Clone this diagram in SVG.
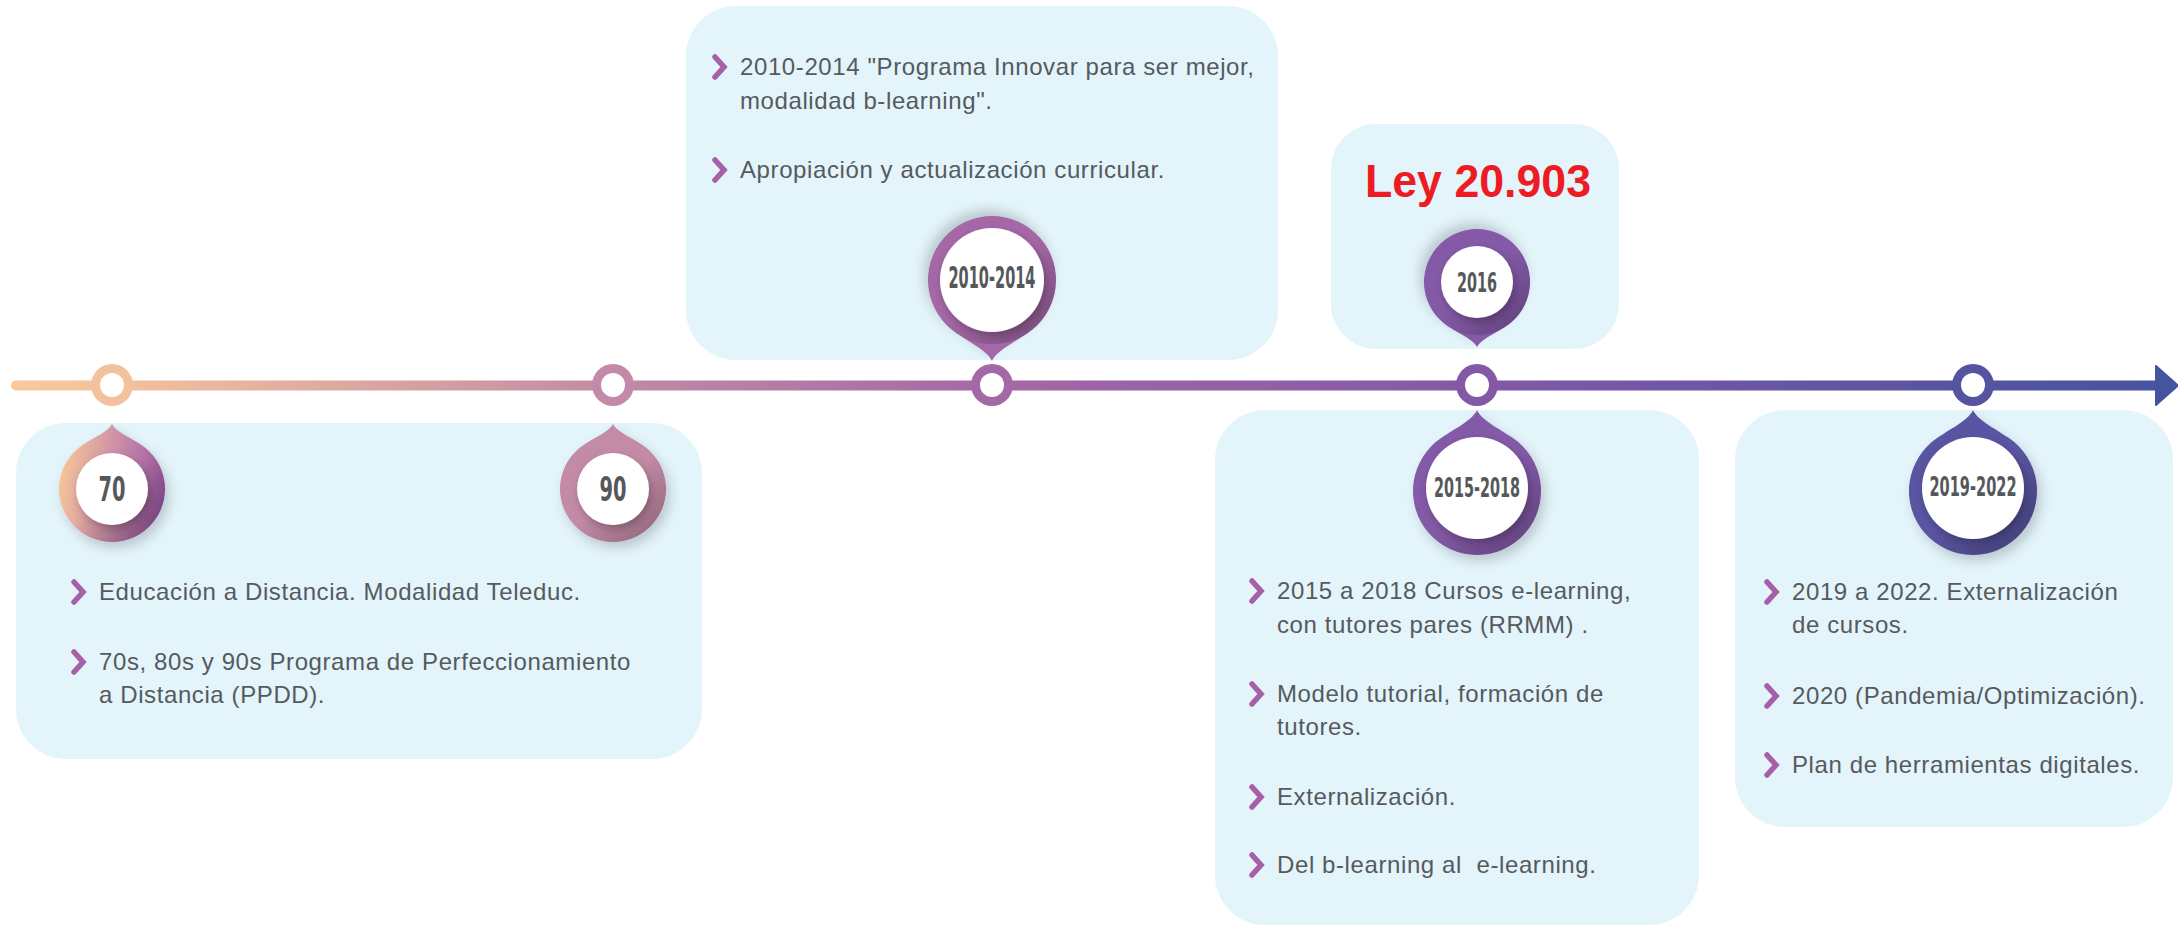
<svg xmlns="http://www.w3.org/2000/svg" width="2178" height="927" viewBox="0 0 2178 927">
<style>
.box{fill:#e3f4fb}
.txt{font-family:"Liberation Sans",Arial,sans-serif;font-size:24px;fill:#565a5d;letter-spacing:0.6px}
.lbl{font-family:"DejaVu Sans Condensed","DejaVu Sans",sans-serif;font-weight:bold;fill:#55585b;text-anchor:middle}
.chev{fill:none;stroke:#a75fa7;stroke-width:5.5;stroke-linecap:round;stroke-linejoin:miter}
.hole{fill:#ffffff}
</style>
<defs>
<linearGradient id="line" gradientUnits="userSpaceOnUse" x1="11" y1="0" x2="2178" y2="0">
<stop offset="0" stop-color="#f8c99b"/>
<stop offset="0.047" stop-color="#f3c29c"/>
<stop offset="0.278" stop-color="#c38aa5"/>
<stop offset="0.453" stop-color="#a468a6"/>
<stop offset="0.677" stop-color="#8259a6"/>
<stop offset="0.905" stop-color="#5654a0"/>
<stop offset="1" stop-color="#4654a0"/>
</linearGradient>
<linearGradient id="g70" x1="0" y1="0.3" x2="1" y2="0.5">
<stop offset="0" stop-color="#f8c999"/>
<stop offset="0.5" stop-color="#cc8fa6"/>
<stop offset="1" stop-color="#9c58a2"/>
</linearGradient>
<linearGradient id="shade" x1="0.15" y1="0.15" x2="0.9" y2="0.95">
<stop offset="0.45" stop-color="#000" stop-opacity="0"/>
<stop offset="1" stop-color="#000" stop-opacity="0.25"/>
</linearGradient>
<filter id="ds" x="-30%" y="-30%" width="160%" height="160%">
<feDropShadow dx="4" dy="6" stdDeviation="6" flood-color="#000" flood-opacity="0.18"/>
</filter>
<filter id="ds2" x="-30%" y="-30%" width="160%" height="160%">
<feDropShadow dx="2" dy="4" stdDeviation="4" flood-color="#000" flood-opacity="0.25"/>
</filter>
<path id="pinS" d="M0,-65 C3,-58 16.6,-52.5 29.15,-44.26 A53,53 0 1 1 -29.15,-44.26 C-16.6,-52.5 -3,-58 0,-65 Z"/>
<path id="pinL" d="M0,-81 C3.5,-72 20.2,-63.3 35.2,-53.44 A64,64 0 1 1 -35.2,-53.44 C-20.2,-63.3 -3.5,-72 0,-81 Z"/>
<path id="chv" class="chev" d="M0,0 L9,10 L0,20"/>
</defs>

<g id="boxes">
<rect id="box-70-90" class="box" x="16" y="423" width="686" height="336" rx="50"/>
<rect id="box-2010" class="box" x="686" y="6" width="592" height="354" rx="50"/>
<rect id="box-ley" class="box" x="1331" y="124" width="288" height="225" rx="45"/>
<rect id="box-2015" class="box" x="1215" y="410" width="484" height="515" rx="50"/>
<rect id="box-2019" class="box" x="1735" y="410" width="438" height="417" rx="50"/>
</g>

<g id="connectors">
<line x1="16" y1="385.5" x2="2160" y2="385.5" stroke="url(#line)" stroke-width="10" stroke-linecap="round"/>
<polygon points="2156,366 2178,385.5 2156,405" fill="#4654a0" stroke="#4654a0" stroke-width="2" stroke-linejoin="round"/>
<g id="rings">
<circle cx="112" cy="385" r="21" fill="#f3c19d"/><circle class="hole" cx="112" cy="385" r="12"/>
<circle cx="613" cy="385" r="21" fill="#c28aa6"/><circle class="hole" cx="613" cy="385" r="12"/>
<circle cx="992" cy="385" r="21" fill="#a468a6"/><circle class="hole" cx="992" cy="385" r="12"/>
<circle cx="1477" cy="385" r="21" fill="#8358a6"/><circle class="hole" cx="1477" cy="385" r="12"/>
<circle cx="1973" cy="385" r="21" fill="#5653a1"/><circle class="hole" cx="1973" cy="385" r="12"/>
</g>
</g>

<g id="node-70">
<use href="#pinS" transform="translate(112,489)" fill="url(#g70)" filter="url(#ds)"/>
<circle cx="112" cy="489" r="53" fill="url(#shade)"/>
<circle class="hole" cx="112" cy="489" r="36" filter="url(#ds2)"/>
<text class="lbl" x="112" y="501" font-size="34" textLength="27" lengthAdjust="spacingAndGlyphs">70</text>
</g>

<g id="node-90">
<use href="#pinS" transform="translate(613,489)" fill="#c48ba6" filter="url(#ds)"/>
<circle cx="613" cy="489" r="53" fill="url(#shade)"/>
<circle class="hole" cx="613" cy="489" r="36" filter="url(#ds2)"/>
<text class="lbl" x="613" y="501" font-size="34" textLength="27" lengthAdjust="spacingAndGlyphs">90</text>
</g>

<g id="text-70-90">
<use href="#chv" x="74" y="582"/>
<text class="txt" x="99" y="600">Educación a Distancia. Modalidad Teleduc.</text>
<use href="#chv" x="74" y="652"/>
<text class="txt" x="99" y="670">70s, 80s y 90s Programa de Perfeccionamiento</text>
<text class="txt" x="99" y="703">a Distancia (PPDD).</text>
</g>

<g id="node-2010-2014">
<use href="#pinL" transform="translate(992,280) rotate(180)" fill="#a468a6" filter="url(#ds)"/>
<circle cx="992" cy="280" r="64" fill="url(#shade)"/>
<circle class="hole" cx="992" cy="280" r="52" filter="url(#ds2)"/>
<text class="lbl" x="992" y="288" font-size="30" textLength="87" lengthAdjust="spacingAndGlyphs">2010-2014</text>
<use href="#chv" x="715" y="57"/>
<text class="txt" x="740" y="75">2010-2014 "Programa Innovar para ser mejor,</text>
<text class="txt" x="740" y="109">modalidad b-learning".</text>
<use href="#chv" x="715" y="160"/>
<text class="txt" x="740" y="178">Apropiación y actualización curricular.</text>
</g>

<g id="node-2016">
<text x="1478" y="197" font-family="Liberation Sans, Arial, sans-serif" font-weight="bold" font-size="46" fill="#ed1c24" text-anchor="middle" textLength="226" lengthAdjust="spacingAndGlyphs">Ley 20.903</text>
<use href="#pinS" transform="translate(1477,282) rotate(180)" fill="#845aa8" filter="url(#ds)"/>
<circle cx="1477" cy="282" r="53" fill="url(#shade)"/>
<circle class="hole" cx="1477" cy="282" r="36" filter="url(#ds2)"/>
<text class="lbl" x="1477" y="292" font-size="27" textLength="40" lengthAdjust="spacingAndGlyphs">2016</text>
</g>

<g id="node-2015-2018">
<use href="#pinL" transform="translate(1477,491)" fill="#845aa8" filter="url(#ds)"/>
<circle cx="1477" cy="491" r="64" fill="url(#shade)"/>
<circle class="hole" cx="1477" cy="488" r="51" filter="url(#ds2)"/>
<text class="lbl" x="1477" y="497" font-size="27" textLength="86" lengthAdjust="spacingAndGlyphs">2015-2018</text>
<use href="#chv" x="1252" y="581"/>
<text class="txt" x="1277" y="599">2015 a 2018 Cursos e-learning,</text>
<text class="txt" x="1277" y="633">con tutores pares (RRMM) .</text>
<use href="#chv" x="1252" y="684"/>
<text class="txt" x="1277" y="702">Modelo tutorial, formación de</text>
<text class="txt" x="1277" y="735">tutores.</text>
<use href="#chv" x="1252" y="787"/>
<text class="txt" x="1277" y="805">Externalización.</text>
<use href="#chv" x="1252" y="855"/>
<text class="txt" x="1277" y="873" xml:space="preserve">Del b-learning al  e-learning.</text>
</g>

<g id="node-2019-2022">
<use href="#pinL" transform="translate(1973,491)" fill="#5a55a2" filter="url(#ds)"/>
<circle cx="1973" cy="491" r="64" fill="url(#shade)"/>
<circle class="hole" cx="1973" cy="488" r="51" filter="url(#ds2)"/>
<text class="lbl" x="1973" y="496" font-size="27" textLength="87" lengthAdjust="spacingAndGlyphs">2019-2022</text>
<use href="#chv" x="1767" y="582"/>
<text class="txt" x="1792" y="600">2019 a 2022. Externalización</text>
<text class="txt" x="1792" y="633">de cursos.</text>
<use href="#chv" x="1767" y="686"/>
<text class="txt" x="1792" y="704">2020 (Pandemia/Optimización).</text>
<use href="#chv" x="1767" y="755"/>
<text class="txt" x="1792" y="773">Plan de herramientas digitales.</text>
</g>
</svg>
